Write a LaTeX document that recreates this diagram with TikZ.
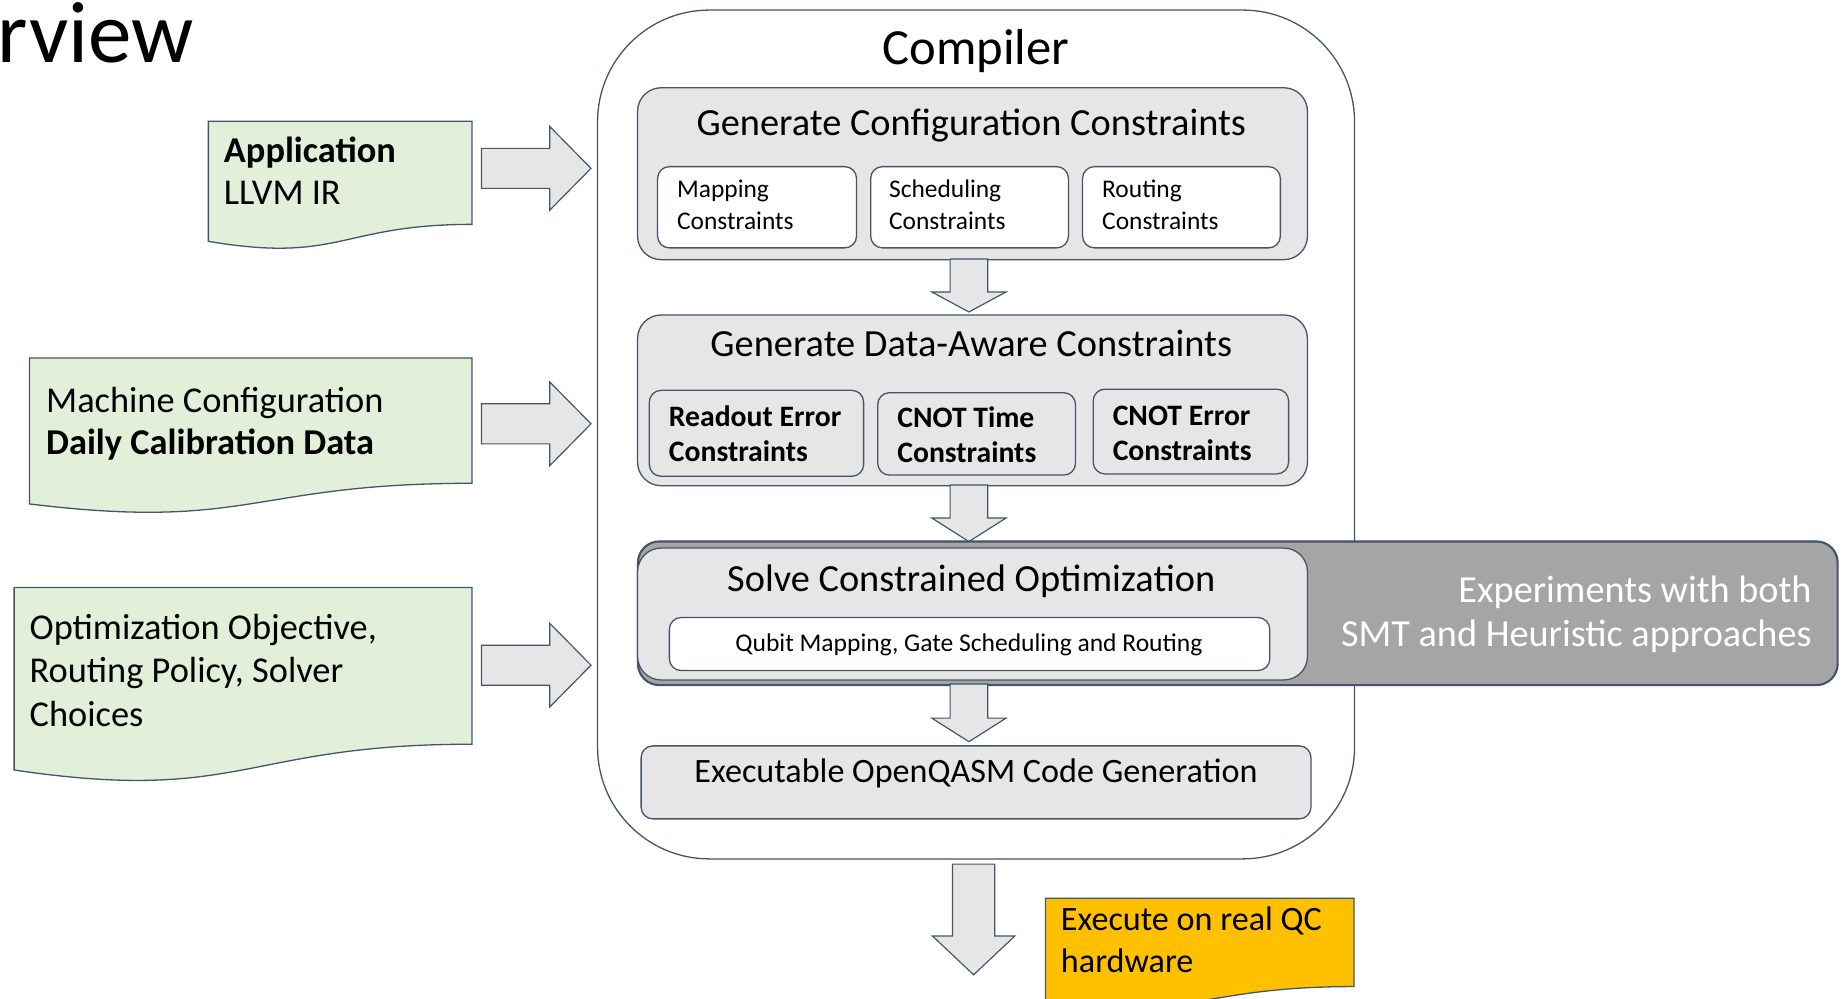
\documentclass[tikz,border=0pt]{standalone}
\usepackage{fontspec}
\setmainfont{Carlito}
\definecolor{edge}{HTML}{44546A}
\definecolor{panel}{HTML}{E6E6E6}
\definecolor{note}{HTML}{E2F0D9}
\definecolor{band}{HTML}{A5A5A5}
\definecolor{amber}{HTML}{FFC000}

% flow-chart "document" outline: x1, top, x2, height, style
\newcommand\docpath[5]{%
  \path[#5] (#1,#2) -- (#3,#2) -- (#3,{#2+0.802*#4})
    .. controls ({(#1+#3)/2},{#2+0.802*#4}) and ({(#1+#3)/2},{#2+1.1075*#4}) ..
    (#1,{#2+0.934*#4}) -- cycle;}
% block arrow pointing right: start, centre line, shaft length, head length, shaft half, head half
\newcommand\rblock[6]{%
  \draw[blockarrow] (#1,{#2-#5}) -- ({#1+#3},{#2-#5}) -- ({#1+#3},{#2-#6})
    -- ({#1+#3+#4},#2) -- ({#1+#3},{#2+#6}) -- ({#1+#3},{#2+#5}) -- (#1,{#2+#5}) -- cycle;}
% block arrow pointing down: centre line, start, shaft length, head length, shaft half, head half
\newcommand\dblock[6]{%
  \draw[blockarrow] ({#1-#5},#2) -- ({#1-#5},{#2+#3}) -- ({#1-#6},{#2+#3})
    -- (#1,{#2+#3+#4}) -- ({#1+#6},{#2+#3}) -- ({#1+#5},{#2+#3}) -- ({#1+#5},#2) -- cycle;}

\begin{document}
\begin{tikzpicture}[x=1pt,y=-1pt,
  outline/.style={draw=edge, line width=1.1pt},
  notebox/.style={outline, fill=note},
  panelbox/.style={outline, fill=panel, rounded corners=20pt, anchor=north west, inner sep=0pt},
  subbox/.style={outline, fill=white, rounded corners=10pt, anchor=north west, inner sep=0pt},
  graybox/.style={outline, fill=panel, rounded corners=10pt, anchor=north west, inner sep=0pt},
  blockarrow/.style={draw=edge, line width=1pt, fill=panel, line join=miter},
  lt/.style={inner sep=0pt, anchor=base west},
  ct/.style={inner sep=0pt, anchor=base},
  rt/.style={inner sep=0pt, anchor=base east},
  big/.style={font=\fontsize{74}{88}\selectfont},
  head/.style={font=\fontsize{43}{51}\selectfont},
  title/.style={font=\fontsize{32.6}{39}\selectfont},
  body/.style={font=\fontsize{30.9}{37}\selectfont},
  bodyb/.style={font=\fontsize{30.9}{37}\selectfont\bfseries},
  bandtext/.style={font=\fontsize{32.5}{39}\selectfont},
  small/.style={font=\fontsize{21.6}{26}\selectfont},
  smallb/.style={font=\fontsize{25.2}{30}\selectfont\bfseries},
]
\useasboundingbox (0,0) rectangle (1568,848);

% page heading, cut at the left edge
\node[lt, big] (heading) at (-2,53) {rview};

% inputs
\docpath{177}{103}{401}{109.2}{notebox}
\node[lt, bodyb] (app1) at (190,138) {Application};
\node[lt, body]  (app2) at (190,174) {LLVM IR};

\docpath{25}{304}{401}{132.8}{notebox}
\node[lt, body]  (mc1) at (39,350) {Machine Configuration};
\node[lt, bodyb] (mc2) at (39,386) {Daily Calibration Data};

\docpath{12}{499}{401}{166}{notebox}
\node[lt, body] (opt1) at (25,543) {Optimization Objective,};
\node[lt, body] (opt2) at (25,580) {Routing Policy, Solver};
\node[lt, body] (opt3) at (25,617) {Choices};

\rblock{409}{143}{58}{35}{17}{35.5}
\rblock{409}{360}{58}{35}{17}{35.5}
\rblock{409}{565}{58}{35}{17}{35.5}

% compiler frame
\node[outline, fill=white, rounded corners=95pt, anchor=north west, inner sep=0pt,
      minimum width=643pt, minimum height=721pt] (compiler) at (507,8) {};
\node[ct, head] (ctitle) at (829,55) {Compiler};

% stage 1
\node[panelbox, minimum width=569pt, minimum height=146pt] (gcc) at (541,74) {};
\node[ct, title] (gcct) at (825,115) {Generate Configuration Constraints};
\node[subbox, minimum width=169pt, minimum height=69pt] (map) at (558,141) {};
\node[subbox, minimum width=168pt, minimum height=69pt] (sch) at (739,141) {};
\node[subbox, minimum width=168pt, minimum height=69pt] (rou) at (919,141) {};
\node[lt, small] (map1) at (575,168) {Mapping};
\node[lt, small] (map2) at (575,195) {Constraints};
\node[lt, small] (sch1) at (755,168) {Scheduling};
\node[lt, small] (sch2) at (755,195) {Constraints};
\node[lt, small] (rou1) at (936,168) {Routing};
\node[lt, small] (rou2) at (936,195) {Constraints};

\dblock{823}{220}{28}{17}{16}{31.5}

% stage 2
\node[panelbox, minimum width=569pt, minimum height=145pt] (gda) at (541,267) {};
\node[ct, title] (gdat) at (825,303) {Generate Data-Aware Constraints};
\node[graybox, minimum width=182pt, minimum height=73pt] (rd) at (551,331) {};
\node[graybox, minimum width=168pt, minimum height=70pt] (ct) at (745,333) {};
\node[graybox, minimum width=166pt, minimum height=72pt] (ce) at (928,330) {};
\node[lt, smallb] (rd1) at (568,362) {Readout Error};
\node[lt, smallb] (rd2) at (568,392) {Constraints};
\node[lt, smallb] (ct1) at (762,363) {CNOT Time};
\node[lt, smallb] (ct2) at (762,393) {Constraints};
\node[lt, smallb] (ce1) at (945,361) {CNOT Error};
\node[lt, smallb] (ce2) at (945,391) {Constraints};

\dblock{823}{412}{28}{20}{16}{31.5}

% stage 3 with its side note
\node[draw=edge, line width=1.8pt, fill=band, rounded corners=18pt, anchor=north west, inner sep=0pt,
      minimum width=1019pt, minimum height=122pt] (note) at (541,459) {};
\node[rt, bandtext, text=white] (note1) at (1539,512) {Experiments with both};
\node[rt, bandtext, text=white] (note2) at (1539,549) {SMT and Heuristic approaches};
\node[panelbox, minimum width=569pt, minimum height=112pt] (solve) at (541,465) {};
\node[ct, title] (solvet) at (825,502) {Solve Constrained Optimization};
\node[subbox, minimum width=510pt, minimum height=45pt] (qm) at (568,524) {};
\node[ct, font=\fontsize{21.7}{26}\selectfont] (qmt) at (823,553) {Qubit Mapping, Gate Scheduling and Routing};

\dblock{823}{581}{29}{20}{16}{31.5}

% stage 4
\node[graybox, minimum width=569pt, minimum height=62pt] (qasm) at (544,633) {};
\node[ct, font=\fontsize{29}{35}\selectfont] (qasmt) at (829,665) {Executable OpenQASM Code Generation};

% output
\dblock{827}{734}{61}{33}{18}{35}
\docpath{888}{763}{1150}{93.5}{outline, fill=amber}
\node[lt, font=\fontsize{29}{35}\selectfont] (ex1) at (901,790) {Execute on real QC};
\node[lt, font=\fontsize{29}{35}\selectfont] (ex2) at (901,826) {hardware};
\end{tikzpicture}
\end{document}
